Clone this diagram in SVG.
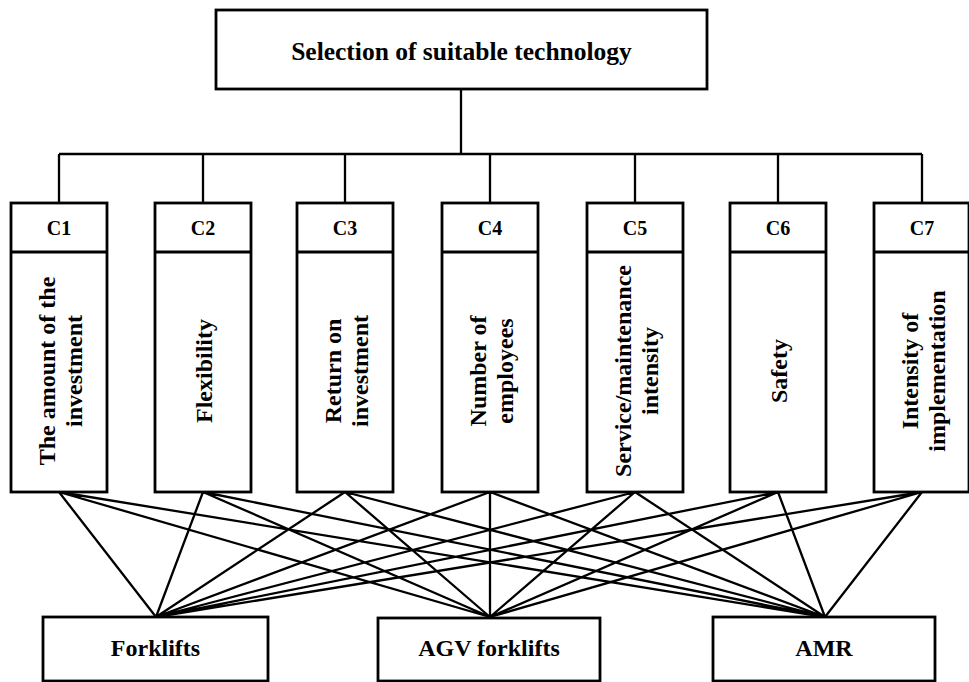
<svg xmlns="http://www.w3.org/2000/svg" width="969" height="682" viewBox="0 0 969 682">
<style>
  .box{fill:#fff;stroke:#000;stroke-width:2.8}
  .ln{stroke:#000;stroke-width:2.3;fill:none}
  .sep{stroke:#000;stroke-width:2.8}
  text{font-family:"Liberation Serif","Times New Roman",serif;font-weight:bold;fill:#000;text-anchor:middle}
  .t{font-size:25.5px}
  .h{font-size:20px}
  .v{font-size:24px}
  .b{font-size:24px}
</style>
<rect width="969" height="682" fill="#fff"/>
<g id="connectors" class="ln">
  <path d="M461,89 V154 M59,154 H922 M59,154 V203 M203,154 V203 M345,154 V203 M490,154 V203 M635,154 V203 M778,154 V203 M922,154 V203"/>
  <path d="M59,492 L156,617 M59,492 L490,617 M59,492 L825,617
           M203,492 L156,617 M203,492 L490,617 M203,492 L825,617
           M345,492 L156,617 M345,492 L490,617 M345,492 L825,617
           M490,492 L156,617 M490,492 L490,617 M490,492 L825,617
           M635,492 L156,617 M635,492 L490,617 M635,492 L825,617
           M778,492 L156,617 M778,492 L490,617 M778,492 L825,617
           M922,492 L156,617 M922,492 L490,617 M922,492 L825,617"/>
</g>
<g id="goal">
  <rect class="box" x="216" y="10" width="491" height="79"/>
  <text class="t" x="461.5" y="60">Selection of suitable technology</text>
</g>
<g id="c1">
  <rect class="box" x="11" y="203" width="96" height="289"/>
  <line class="sep" x1="11" y1="252" x2="107" y2="252"/>
  <text class="h" x="59" y="235">C1</text>
  <text class="v" transform="translate(59,371) rotate(-90)"><tspan x="0" y="-4">The amount of the</tspan><tspan x="0" y="23">investment</tspan></text>
</g>
<g id="c2">
  <rect class="box" x="155" y="203" width="96" height="289"/>
  <line class="sep" x1="155" y1="252" x2="251" y2="252"/>
  <text class="h" x="203" y="235">C2</text>
  <text class="v" transform="translate(203,371) rotate(-90)" y="9">Flexibility</text>
</g>
<g id="c3">
  <rect class="box" x="297" y="203" width="96" height="289"/>
  <line class="sep" x1="297" y1="252" x2="393" y2="252"/>
  <text class="h" x="345" y="235">C3</text>
  <text class="v" transform="translate(345,371) rotate(-90)"><tspan x="0" y="-4">Return on</tspan><tspan x="0" y="23">investment</tspan></text>
</g>
<g id="c4">
  <rect class="box" x="442" y="203" width="96" height="289"/>
  <line class="sep" x1="442" y1="252" x2="538" y2="252"/>
  <text class="h" x="490" y="235">C4</text>
  <text class="v" transform="translate(490,371) rotate(-90)"><tspan x="0" y="-4">Number of</tspan><tspan x="0" y="23">employees</tspan></text>
</g>
<g id="c5">
  <rect class="box" x="587" y="203" width="96" height="289"/>
  <line class="sep" x1="587" y1="252" x2="683" y2="252"/>
  <text class="h" x="635" y="235">C5</text>
  <text class="v" transform="translate(635,371) rotate(-90)"><tspan x="0" y="-4">Service/maintenance</tspan><tspan x="0" y="23">intensity</tspan></text>
</g>
<g id="c6">
  <rect class="box" x="730" y="203" width="96" height="289"/>
  <line class="sep" x1="730" y1="252" x2="826" y2="252"/>
  <text class="h" x="778" y="235">C6</text>
  <text class="v" transform="translate(778,371) rotate(-90)" y="9">Safety</text>
</g>
<g id="c7">
  <rect class="box" x="874" y="203" width="95" height="289"/>
  <line class="sep" x1="874" y1="252" x2="969" y2="252"/>
  <text class="h" x="922" y="235">C7</text>
  <text class="v" transform="translate(922,371) rotate(-90)"><tspan x="0" y="-4">Intensity of</tspan><tspan x="0" y="23">implementation</tspan></text>
</g>
<g id="forklifts">
  <rect class="box" x="43" y="617" width="225" height="64"/>
  <text class="b" x="155.5" y="656">Forklifts</text>
</g>
<g id="agv">
  <rect class="box" x="378" y="618" width="222" height="63"/>
  <text class="b" x="489" y="656">AGV forklifts</text>
</g>
<g id="amr">
  <rect class="box" x="713" y="617" width="222" height="64"/>
  <text class="b" x="824" y="656">AMR</text>
</g>
</svg>
